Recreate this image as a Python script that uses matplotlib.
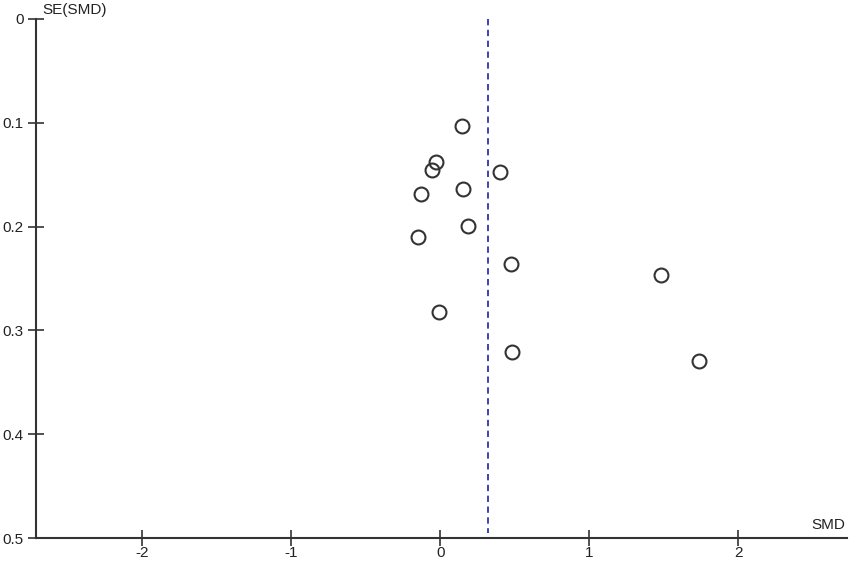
import matplotlib.pyplot as plt

# Funnel plot data
smd = [0.148, -0.027, -0.054, 0.403, -0.128, 0.154, 0.188, -0.148,
       0.477, 1.484, -0.007, 0.484, 1.739]
se_smd = [0.103, 0.138, 0.145, 0.147, 0.169, 0.164, 0.199, 0.210,
          0.236, 0.247, 0.282, 0.321, 0.329]
pooled = 0.322
x_ticks = [-2, -1, 0, 1, 2]
y_ticks = [0, 0.1, 0.2, 0.3, 0.4, 0.5]
y_labels = ['0', '0.1', '0.2', '0.3', '0.4', '0.5']

plt.rcParams['font.family'] = ['Liberation Sans', 'DejaVu Sans']

fig = plt.figure(figsize=(8.5, 5.63), dpi=100)
ax = fig.add_axes([36 / 850, 1 - 538 / 563, (847 - 36) / 850, (538 - 19) / 563])

ax.plot(smd, se_smd, 'o', markersize=10, markerfacecolor='none',
        markeredgecolor='#333333', markeredgewidth=1.5)
ax.plot([pooled, pooled], [0, 0.495], color='#3333aa', linestyle='--',
        dashes=(3.5, 2.5), linewidth=1.3)

ax.set_xlim(-2.715, 2.73)
ax.set_ylim(0.5, 0)

for s in ['top', 'right']:
    ax.spines[s].set_visible(False)
for s in ['left', 'bottom']:
    ax.spines[s].set_color('#333333')
    ax.spines[s].set_linewidth(1.5)

ax.set_xticks(x_ticks)
ax.set_xticklabels([str(t) for t in x_ticks])
ax.set_yticks(y_ticks)
ax.set_yticklabels(y_labels)
ax.tick_params(axis='x', direction='inout', length=12, width=1.2,
               colors='#333333', labelsize=11, pad=0, labelcolor='#222222')
ax.tick_params(axis='y', direction='inout', length=12, width=1.2,
               colors='#333333', labelsize=11, pad=3, labelcolor='#222222')

ax.text(42 / 850, 1 - 10 / 563, 'SE(SMD)', transform=fig.transFigure,
        fontsize=11, color='#222222', va='center', ha='left')
ax.text(845 / 850, 1 - 525 / 563, 'SMD', transform=fig.transFigure,
        fontsize=11, color='#222222', va='center', ha='right')

fig.savefig('out.png', dpi=100)
